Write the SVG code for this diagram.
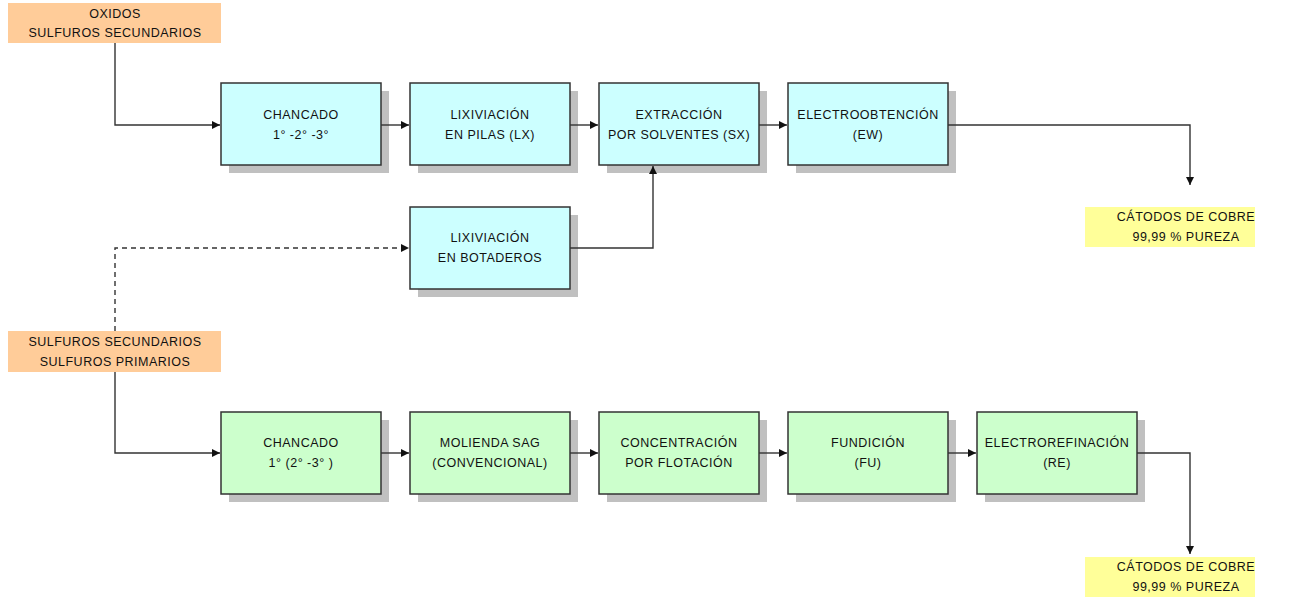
<svg xmlns="http://www.w3.org/2000/svg" width="1303" height="597" viewBox="0 0 1303 597">
  <defs>
    <style>
      .lbl { font-family: "Liberation Sans", Arial, sans-serif; font-size: 12.5px; fill: #111; text-anchor: middle; letter-spacing: 0.5px; }
      .shadow { fill: #c0c0c0; }
      .box { stroke: #333; stroke-width: 1.5; }
      .cyan { fill: #ccffff; }
      .green { fill: #ccffcc; }
      .orange { fill: #ffcc99; }
      .yellow { fill: #ffff99; }
      .conn { fill: none; stroke: #333; stroke-width: 1.4; }
      .dash { stroke-dasharray: 5 4; }
    </style>
    <marker id="arrow" viewBox="0 0 10 10" refX="10" refY="5" markerWidth="8" markerHeight="8" markerUnits="userSpaceOnUse" orient="auto">
      <path d="M0,0 L10,5 L0,10 z" fill="#111"/>
    </marker>
  </defs>
  <rect width="1303" height="597" fill="#fff"/>

  <!-- feed sources -->
  <g id="src-oxidos">
    <rect class="orange" x="8" y="3" width="213" height="40"/>
    <text class="lbl" x="115" y="18">OXIDOS</text>
    <text class="lbl" x="115" y="37">SULFUROS SECUNDARIOS</text>
  </g>
  <g id="src-sulfuros">
    <rect class="orange" x="8" y="331" width="213" height="41"/>
    <text class="lbl" x="115" y="346">SULFUROS SECUNDARIOS</text>
    <text class="lbl" x="115" y="366">SULFUROS PRIMARIOS</text>
  </g>

  <!-- hydrometallurgical route -->
  <g id="chancado-hidro">
    <rect class="shadow" x="229" y="91" width="160" height="82"/>
    <rect class="box cyan" x="221" y="83" width="160" height="82"/>
    <text class="lbl" x="301" y="119">CHANCADO</text>
    <text class="lbl" x="301" y="139">1° -2° -3°</text>
  </g>
  <g id="lx-pilas">
    <rect class="shadow" x="418" y="91" width="160" height="82"/>
    <rect class="box cyan" x="410" y="83" width="160" height="82"/>
    <text class="lbl" x="490" y="119">LIXIVIACIÓN</text>
    <text class="lbl" x="490" y="139">EN PILAS (LX)</text>
  </g>
  <g id="sx">
    <rect class="shadow" x="607" y="91" width="160" height="82"/>
    <rect class="box cyan" x="599" y="83" width="160" height="82"/>
    <text class="lbl" x="679" y="119">EXTRACCIÓN</text>
    <text class="lbl" x="679" y="139">POR SOLVENTES (SX)</text>
  </g>
  <g id="ew">
    <rect class="shadow" x="796" y="91" width="160" height="82"/>
    <rect class="box cyan" x="788" y="83" width="160" height="82"/>
    <text class="lbl" x="868" y="119">ELECTROOBTENCIÓN</text>
    <text class="lbl" x="868" y="139">(EW)</text>
  </g>
  <g id="lx-botaderos">
    <rect class="shadow" x="418" y="215" width="160" height="82"/>
    <rect class="box cyan" x="410" y="207" width="160" height="82"/>
    <text class="lbl" x="490" y="242">LIXIVIACIÓN</text>
    <text class="lbl" x="490" y="262">EN BOTADEROS</text>
  </g>
  <g id="catodos-ew">
    <rect class="yellow" x="1085" y="207" width="170" height="40"/>
    <text class="lbl" x="1186" y="221">CÁTODOS DE COBRE</text>
    <text class="lbl" x="1186" y="241">99,99 % PUREZA</text>
  </g>

  <!-- pyrometallurgical route -->
  <g id="chancado-piro">
    <rect class="shadow" x="229" y="420" width="160" height="82"/>
    <rect class="box green" x="221" y="412" width="160" height="82"/>
    <text class="lbl" x="301" y="447">CHANCADO</text>
    <text class="lbl" x="301" y="467">1°  (2° -3° )</text>
  </g>
  <g id="molienda">
    <rect class="shadow" x="418" y="420" width="160" height="82"/>
    <rect class="box green" x="410" y="412" width="160" height="82"/>
    <text class="lbl" x="490" y="447">MOLIENDA  SAG</text>
    <text class="lbl" x="490" y="467">(CONVENCIONAL)</text>
  </g>
  <g id="flotacion">
    <rect class="shadow" x="607" y="420" width="160" height="82"/>
    <rect class="box green" x="599" y="412" width="160" height="82"/>
    <text class="lbl" x="679" y="447">CONCENTRACIÓN</text>
    <text class="lbl" x="679" y="467">POR FLOTACIÓN</text>
  </g>
  <g id="fundicion">
    <rect class="shadow" x="796" y="420" width="160" height="82"/>
    <rect class="box green" x="788" y="412" width="160" height="82"/>
    <text class="lbl" x="868" y="447">FUNDICIÓN</text>
    <text class="lbl" x="868" y="467">(FU)</text>
  </g>
  <g id="electrorefinacion">
    <rect class="shadow" x="985" y="420" width="160" height="82"/>
    <rect class="box green" x="977" y="412" width="160" height="82"/>
    <text class="lbl" x="1057" y="447">ELECTROREFINACIÓN</text>
    <text class="lbl" x="1057" y="467">(RE)</text>
  </g>
  <g id="catodos-re">
    <rect class="yellow" x="1085" y="557" width="170" height="40"/>
    <text class="lbl" x="1186" y="571">CÁTODOS DE COBRE</text>
    <text class="lbl" x="1186" y="591">99,99 % PUREZA</text>
  </g>

  <!-- connectors -->
  <g id="connectors">
    <path class="conn" d="M115,43 V125 H220" marker-end="url(#arrow)"/>
    <path class="conn" d="M381,125 H409" marker-end="url(#arrow)"/>
    <path class="conn" d="M570,125 H598" marker-end="url(#arrow)"/>
    <path class="conn" d="M759,125 H787" marker-end="url(#arrow)"/>
    <path class="conn" d="M948,125 H1190 V185" marker-end="url(#arrow)"/>
    <path class="conn dash" d="M115,331 V248 H409" marker-end="url(#arrow)"/>
    <path class="conn" d="M570,248 H653 V166" marker-end="url(#arrow)"/>
    <path class="conn" d="M115,372 V453 H220" marker-end="url(#arrow)"/>
    <path class="conn" d="M381,453 H409" marker-end="url(#arrow)"/>
    <path class="conn" d="M570,453 H598" marker-end="url(#arrow)"/>
    <path class="conn" d="M759,453 H787" marker-end="url(#arrow)"/>
    <path class="conn" d="M948,453 H976" marker-end="url(#arrow)"/>
    <path class="conn" d="M1137,453 H1190 V554" marker-end="url(#arrow)"/>
  </g>
</svg>
